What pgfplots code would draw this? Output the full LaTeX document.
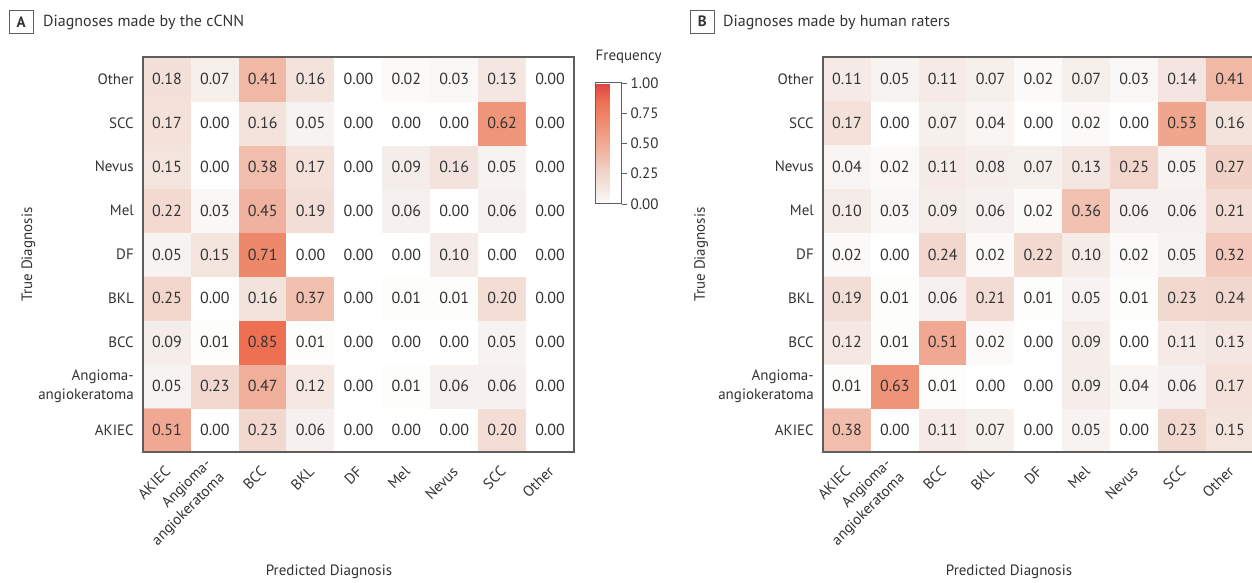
\documentclass[border=0pt]{standalone}
\usepackage{pgfplots}
\pgfplotsset{compat=1.18}
\usepackage{pgfplotstable}
\usepackage{fontspec}
\setmainfont{PT Sans}
\definecolor{txt}{HTML}{333333}
\definecolor{frm}{HTML}{5E5E5E}

\pgfplotstableread{
x y c
0 0 0.51
1 0 0.00
2 0 0.23
3 0 0.06
4 0 0.00
5 0 0.00
6 0 0.00
7 0 0.20
8 0 0.00
0 1 0.05
1 1 0.23
2 1 0.47
3 1 0.12
4 1 0.00
5 1 0.01
6 1 0.06
7 1 0.06
8 1 0.00
0 2 0.09
1 2 0.01
2 2 0.85
3 2 0.01
4 2 0.00
5 2 0.00
6 2 0.00
7 2 0.05
8 2 0.00
0 3 0.25
1 3 0.00
2 3 0.16
3 3 0.37
4 3 0.00
5 3 0.01
6 3 0.01
7 3 0.20
8 3 0.00
0 4 0.05
1 4 0.15
2 4 0.71
3 4 0.00
4 4 0.00
5 4 0.00
6 4 0.10
7 4 0.00
8 4 0.00
0 5 0.22
1 5 0.03
2 5 0.45
3 5 0.19
4 5 0.00
5 5 0.06
6 5 0.00
7 5 0.06
8 5 0.00
0 6 0.15
1 6 0.00
2 6 0.38
3 6 0.17
4 6 0.00
5 6 0.09
6 6 0.16
7 6 0.05
8 6 0.00
0 7 0.17
1 7 0.00
2 7 0.16
3 7 0.05
4 7 0.00
5 7 0.00
6 7 0.00
7 7 0.62
8 7 0.00
0 8 0.18
1 8 0.07
2 8 0.41
3 8 0.16
4 8 0.00
5 8 0.02
6 8 0.03
7 8 0.13
8 8 0.00
}\tabA

\pgfplotstableread{
x y c
0 0 0.38
1 0 0.00
2 0 0.11
3 0 0.07
4 0 0.00
5 0 0.05
6 0 0.00
7 0 0.23
8 0 0.15
0 1 0.01
1 1 0.63
2 1 0.01
3 1 0.00
4 1 0.00
5 1 0.09
6 1 0.04
7 1 0.06
8 1 0.17
0 2 0.12
1 2 0.01
2 2 0.51
3 2 0.02
4 2 0.00
5 2 0.09
6 2 0.00
7 2 0.11
8 2 0.13
0 3 0.19
1 3 0.01
2 3 0.06
3 3 0.21
4 3 0.01
5 3 0.05
6 3 0.01
7 3 0.23
8 3 0.24
0 4 0.02
1 4 0.00
2 4 0.24
3 4 0.02
4 4 0.22
5 4 0.10
6 4 0.02
7 4 0.05
8 4 0.32
0 5 0.10
1 5 0.03
2 5 0.09
3 5 0.06
4 5 0.02
5 5 0.36
6 5 0.06
7 5 0.06
8 5 0.21
0 6 0.04
1 6 0.02
2 6 0.11
3 6 0.08
4 6 0.07
5 6 0.13
6 6 0.25
7 6 0.05
8 6 0.27
0 7 0.17
1 7 0.00
2 7 0.07
3 7 0.04
4 7 0.00
5 7 0.02
6 7 0.00
7 7 0.53
8 7 0.16
0 8 0.11
1 8 0.05
2 8 0.11
3 8 0.07
4 8 0.02
5 8 0.07
6 8 0.03
7 8 0.14
8 8 0.41
}\tabB

\pgfplotsset{
  /pgf/number format/assume math mode=true,
  hm/.style={
    scale only axis, width=431pt, height=395pt,
    xmin=-0.5, xmax=8.5, ymin=-0.5, ymax=8.5,
    enlargelimits=false, axis on top,
    /pgf/number format/.cd, fixed, fixed zerofill, precision=2, assume math mode=true, /pgfplots/.cd,
    every node near coord/.append style={text=txt, font=\fontsize{16}{19}\selectfont},
    colormap={freq}{rgb255(0pt)=(255,255,255) rgb255(5pt)=(246,243,240) rgb255(15pt)=(244,228,222) rgb255(25pt)=(242,214,204) rgb255(40pt)=(241,186,168) rgb255(50pt)=(240,170,148) rgb255(62pt)=(239,150,122) rgb255(71pt)=(238,136,106) rgb255(85pt)=(238,112,82) rgb255(100pt)=(222,66,70)},
    point meta min=0, point meta max=1,
    axis line style={draw=frm, line width=1.2pt},
    major tick length=0pt,
    xtick={0,...,8}, ytick={0,...,8},
    xticklabels={AKIEC,{Angioma-\\angiokeratoma},BCC,BKL,DF,Mel,Nevus,SCC,Other},
    yticklabels={AKIEC,{Angioma-\\angiokeratoma},BCC,BKL,DF,Mel,Nevus,SCC,Other},
    xticklabel style={xshift=1pt, align=right, rotate=45, anchor=east, inner sep=0pt, text=txt},
    yticklabel style={align=right, anchor=east, inner sep=0pt, text=txt},
    xticklabel shift=17pt, yticklabel shift=9pt,
    xlabel={Predicted Diagnosis}, ylabel={True Diagnosis},
    xlabel style={at={(axis description cs:0.4316,0)}, anchor=base, yshift=-123pt, inner sep=0pt, text=txt},
    ylabel style={anchor=center, text=txt},
  },
  heat/.style={matrix plot*, mesh/cols=9, point meta=explicit},
  lbls/.style={draw=none, mark=none, point meta=explicit,
    nodes near coords, nodes near coords align=center},
}

\begin{document}
\fontsize{15}{19}\selectfont
\begin{tikzpicture}[x=1pt,y=1pt]
\useasboundingbox (0,0) rectangle (1252,582);
% Panel A
\draw[frm, line width=0.9pt] (9.5,548.5) rectangle (33,572);
\node[font=\bfseries, text=txt] at (21.25,560.25) {A};
\node[anchor=base west, text=txt, inner sep=0pt, font=\fontsize{16}{19}\selectfont] at (43,555) {Diagnoses made by the cCNN};
\begin{axis}[hm, at={(143pt,130pt)}, anchor=south west,
  ylabel style={at={(axis description cs:-0.266,0.5)}},
  colorbar,
  colorbar style={
    scale only axis, width=26pt, height=121pt,
    at={(parent axis.north east)}, anchor=north west, xshift=13pt, yshift=-26pt,
    xlabel={}, ylabel={}, xtick=\empty,
    ytick={0,0.25,0.5,0.75,1}, yticklabels={0.00,0.25,0.50,0.75,1.00},
    every y tick label/.style={anchor=west, inner sep=0pt, text=txt},
    yticklabel shift=4pt,
    major tick length=5pt, tick align=outside, ytick pos=right,
    tick style={draw=frm, line width=0.8pt},
    axis line style={draw=frm, line width=1pt},
    title={Frequency},
    title style={at={(0,1)}, anchor=base west, yshift=16pt, inner sep=0pt, text=txt},
  }]
\addplot[heat] table[meta=c]{\tabA};
\addplot[lbls] table[meta=c]{\tabA};
\end{axis}
% Panel B
\draw[frm, line width=0.9pt] (690.5,548.5) rectangle (714,572);
\node[font=\bfseries, text=txt] at (702.25,560.25) {B};
\node[anchor=base west, text=txt, inner sep=0pt, font=\fontsize{16}{19}\selectfont] at (723,555) {Diagnoses made by human raters};
\begin{axis}[hm, at={(823pt,130pt)}, anchor=south west,
  ylabel style={at={(axis description cs:-0.283,0.5)}}]
\addplot[heat] table[meta=c]{\tabB};
\addplot[lbls] table[meta=c]{\tabB};
\end{axis}
\end{tikzpicture}
\end{document}
